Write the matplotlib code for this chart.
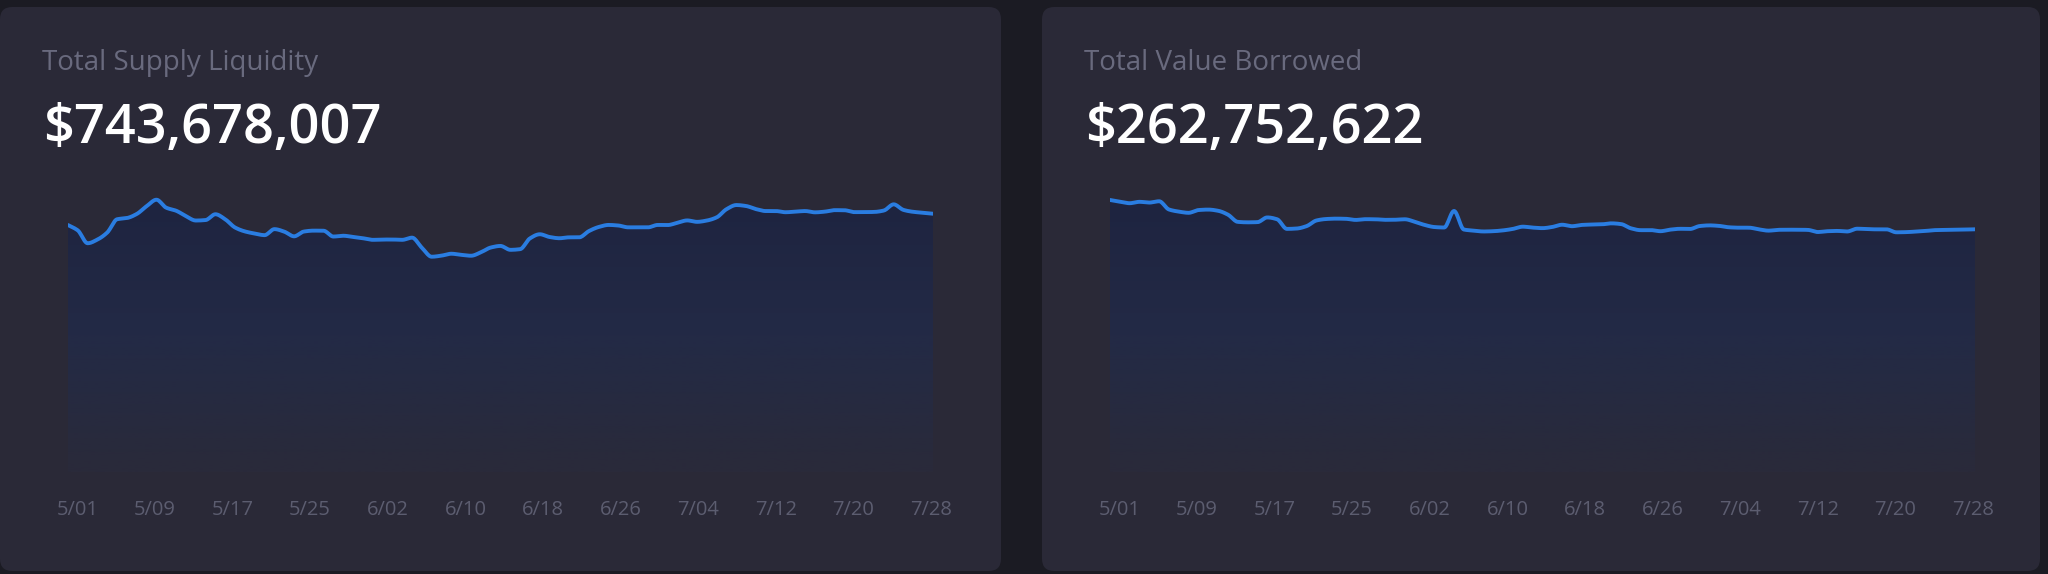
import numpy as np
import matplotlib
matplotlib.use("Agg")
import matplotlib.pyplot as plt
from matplotlib.patches import FancyBboxPatch
from matplotlib.colors import LinearSegmentedColormap

plt.rcParams['font.family'] = ['Open Sans', 'DejaVu Sans']

# daily values, 5/01 .. 7/28, in millions of USD
supply = [711.1, 695.6, 658.7, 669.4, 689.8, 727.8, 731.3, 743.1, 765.5, 784.0,
          760.9, 752.3, 736.7, 724.1, 725.5, 742.2, 727.5, 703.9, 692.7, 686.6,
          682.0, 699.3, 692.1, 678.6, 692.4, 695.0, 694.7, 678.0, 680.3, 676.8,
          673.1, 668.5, 669.4, 669.4, 668.5, 674.8, 645.8, 619.9, 623.0, 628.5,
          625.3, 622.7, 632.5, 646.3, 650.9, 639.7, 641.7, 672.8, 684.6, 676.6,
          673.1, 675.7, 675.7, 693.8, 705.6, 711.4, 709.7, 704.5, 704.5, 704.5,
          711.4, 711.1, 717.7, 724.4, 720.3, 724.1, 733.3, 756.9, 768.7, 765.8,
          756.9, 751.4, 751.4, 748.0, 749.7, 751.4, 747.7, 749.7, 754.0, 753.7,
          748.3, 748.3, 748.8, 752.9, 770.7, 754.6, 749.1, 746.5, 743.68]
borrowed = [294.5, 292.6, 291.0, 292.5, 291.7, 293.1, 284.2, 281.9, 280.6, 283.6,
            284.1, 282.8, 278.6, 270.8, 270.3, 270.5, 275.6, 273.6, 263.2, 263.6,
            266.2, 272.3, 273.9, 274.3, 274.1, 272.9, 273.7, 273.6, 273.0, 273.1,
            273.6, 270.9, 267.5, 265.2, 264.7, 282.6, 262.5, 261.3, 260.4, 260.7,
            261.6, 263.2, 265.6, 264.6, 264.0, 265.3, 267.7, 266.1, 267.5, 267.9,
            268.1, 269.2, 268.4, 263.8, 261.8, 261.9, 260.7, 262.4, 263.3, 263.1,
            266.3, 267.0, 266.4, 264.9, 264.5, 264.5, 262.7, 261.3, 262.2, 262.3,
            262.3, 262.1, 259.8, 260.7, 261.0, 260.4, 263.4, 263.0, 262.7, 262.7,
            259.5, 259.7, 260.3, 261.0, 261.9, 262.1, 262.3, 262.5, 262.75]
tick_labels = ['5/01', '5/09', '5/17', '5/25', '6/02', '6/10',
               '6/18', '6/26', '7/04', '7/12', '7/20', '7/28']
titles = ['Total Supply Liquidity', 'Total Value Borrowed']
totals = ['$743,678,007', '$262,752,622']

BG = '#1b1b23'
PANEL = '#2a2937'
LINE = '#2a7de1'
MUTED = '#696a7e'
grad = LinearSegmentedColormap.from_list('g', ['#1e2440', '#232a46', '#2a2a3a'])


def pchip(y, n=12):
    # monotone cubic through evenly spaced points
    y = np.asarray(y, float)
    d = np.diff(y)
    m = np.zeros_like(y)
    for k in range(1, len(y) - 1):
        if d[k - 1] * d[k] > 0:
            m[k] = 2.0 / (1.0 / d[k - 1] + 1.0 / d[k])
    m[0], m[-1] = d[0], d[-1]
    xs, ys = [], []
    for k in range(len(y) - 1):
        t = np.linspace(0, 1, n, endpoint=False)
        h00 = 2 * t**3 - 3 * t**2 + 1
        h10 = t**3 - 2 * t**2 + t
        h01 = -2 * t**3 + 3 * t**2
        h11 = t**3 - t**2
        xs.append(k + t)
        ys.append(h00 * y[k] + h10 * m[k] + h01 * y[k + 1] + h11 * m[k + 1])
    xs.append([len(y) - 1])
    ys.append([y[-1]])
    return np.concatenate(xs), np.concatenate(ys)


W, H = 2048, 574
fig = plt.figure(figsize=(W / 100, H / 100), dpi=100, facecolor=BG)

panels = [(0, 1001), (1042, 2040)]
series = [(supply, 812), (borrowed, 305.3)]

for i, ((px0, px1), (vals, ytop)) in enumerate(zip(panels, series)):
    fig.patches.append(FancyBboxPatch(
        (px0 / W, 3 / H), (px1 - px0) / W, (567 - 3) / H,
        boxstyle='round,pad=0,rounding_size=0.006', transform=fig.transFigure,
        facecolor=PANEL, edgecolor='none', mutation_aspect=W / H, zorder=-5))

    fig.text((px0 + 42) / W, 1 - 70 / H, titles[i], color=MUTED,
             fontsize=20, va='baseline')
    fig.text((px0 + 43) / W, 1 - 143 / H, totals[i], color='white',
             fontsize=39, va='baseline', fontweight='semibold')

    ax = fig.add_axes([(px0 + 68) / W, 1 - 472 / H, 865 / W, 282 / H])
    ax.set_facecolor('none')
    n = len(vals) - 1
    ax.set_xlim(0, n)
    ax.set_ylim(0, ytop)

    xs, ys = pchip(vals)
    poly = ax.fill_between(xs, ys, 0, color='none', lw=0)
    img = ax.imshow(np.linspace(0, 1, 256).reshape(-1, 1), cmap=grad, aspect='auto',
                    extent=[0, n, 0, max(vals)], origin='upper', zorder=1)
    img.set_clip_path(poly.get_paths()[0], transform=ax.transData)
    ax.plot(xs, ys, color=LINE, lw=2.8, solid_capstyle='round', zorder=3)

    # labels sit slightly inside the ends of the line
    ax.set_xticks(np.linspace(0.95, n - 0.2, len(tick_labels)))
    ax.set_xticklabels(tick_labels)
    ax.tick_params(axis='x', length=0, pad=20, labelsize=14.5, labelcolor='#5c5d70')
    ax.set_yticks([])
    for s in ax.spines.values():
        s.set_visible(False)

fig.savefig('out.png', dpi=100, facecolor=BG)
